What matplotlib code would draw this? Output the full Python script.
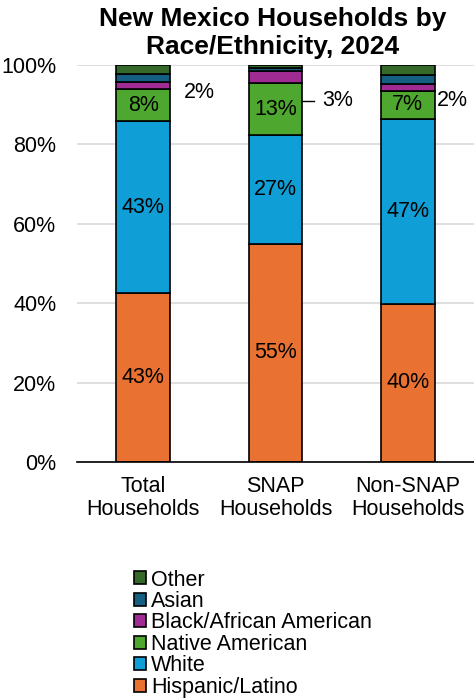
import matplotlib
matplotlib.use("Agg")
import matplotlib.pyplot as plt
from matplotlib.patches import Patch
import numpy as np

plt.rcParams['font.family'] = ['Liberation Sans', 'DejaVu Sans']

categories = ["Total\nHouseholds", "SNAP\nHouseholds", "Non-SNAP\nHouseholds"]
groups = ["Hispanic/Latino", "White", "Native American",
          "Black/African American", "Asian", "Other"]
hispanic = [42.6, 55.0, 39.8]
white = [43.2, 27.3, 46.7]
native = [8.2, 13.2, 6.9]
black = [1.8, 3.0, 1.8]
asian = [1.9, 0.8, 2.4]
other = [2.3, 0.7, 2.4]
colors = ["#E97132", "#0F9ED5", "#4EA72E", "#A02B93", "#156082", "#35692A"]

series = [hispanic, white, native, black, asian, other]

FS = 15.5

fig = plt.figure(figsize=(4.74, 6.98), dpi=100)
ax = fig.add_axes([0.1624, 0.3381, 0.8376, 0.5688])

x = np.arange(len(categories))
bottom = np.zeros(len(categories))
width = 0.405
for vals, col in zip(series, colors):
    ax.bar(x, vals, width, bottom=bottom, color=col, edgecolor="black",
           linewidth=1.2, zorder=3)
    bottom += np.array(vals)

# value labels inside the three largest segments
base = np.zeros(len(categories))
for idx, vals in enumerate(series[:3]):
    for i, v in enumerate(vals):
        ax.text(x[i], base[i] + v / 2, f"{round(v)}%", ha="center",
                va="center", fontsize=FS, color="black", zorder=4)
    base += np.array(vals)

# small-segment labels outside the bars (Black/African American share)
ax.text(x[0] + 0.425, 93, f"{round(black[0])}%", ha="center", va="center",
        fontsize=FS)
snap_y = 91
ax.plot([x[1] + width / 2, x[1] + width / 2 + 0.09], [snap_y, snap_y],
        color="black", lw=1, zorder=4, clip_on=False)
ax.text(x[1] + width / 2 + 0.15, snap_y, f"{round(black[1])}%", ha="left",
        va="center", fontsize=FS)
ax.text(x[2] + 0.34, 91, f"{round(black[2])}%", ha="center", va="center",
        fontsize=FS)

ax.set_xlim(-0.5, 2.5)
ax.set_ylim(0, 100)
ax.set_yticks(np.arange(0, 101, 20))
ax.set_yticklabels([f"{t}%" for t in range(0, 101, 20)], fontsize=FS)
ax.set_xticks(x)
ax.set_xticklabels(categories, fontsize=FS, linespacing=1.15)
ax.tick_params(axis="y", length=0, pad=15)
ax.tick_params(axis="x", length=0, pad=10)
ax.yaxis.grid(True, color="#D9D9D9", linewidth=1.2, zorder=0)
ax.set_axisbelow(True)
for s in ["left", "right", "top"]:
    ax.spines[s].set_visible(False)
ax.spines["bottom"].set_color("black")
ax.spines["bottom"].set_linewidth(1.2)
ax.spines["bottom"].set_zorder(5)

fig.text(0.576, 0.99, "New Mexico Households by\nRace/Ethnicity, 2024",
         ha="center", va="top", fontsize=19, fontweight="bold",
         linespacing=1.2)

handles = [Patch(facecolor=c, edgecolor="black", linewidth=1.2, label=g)
           for g, c in zip(groups, colors)][::-1]
fig.legend(handles=handles, loc="upper left", bbox_to_anchor=(0.283, 0.184),
           frameon=False, fontsize=FS, handlelength=0.55, handleheight=0.55,
           handletextpad=0.25, labelspacing=0.02, borderaxespad=0,
           borderpad=0)

fig.savefig("out.png", dpi=100)
